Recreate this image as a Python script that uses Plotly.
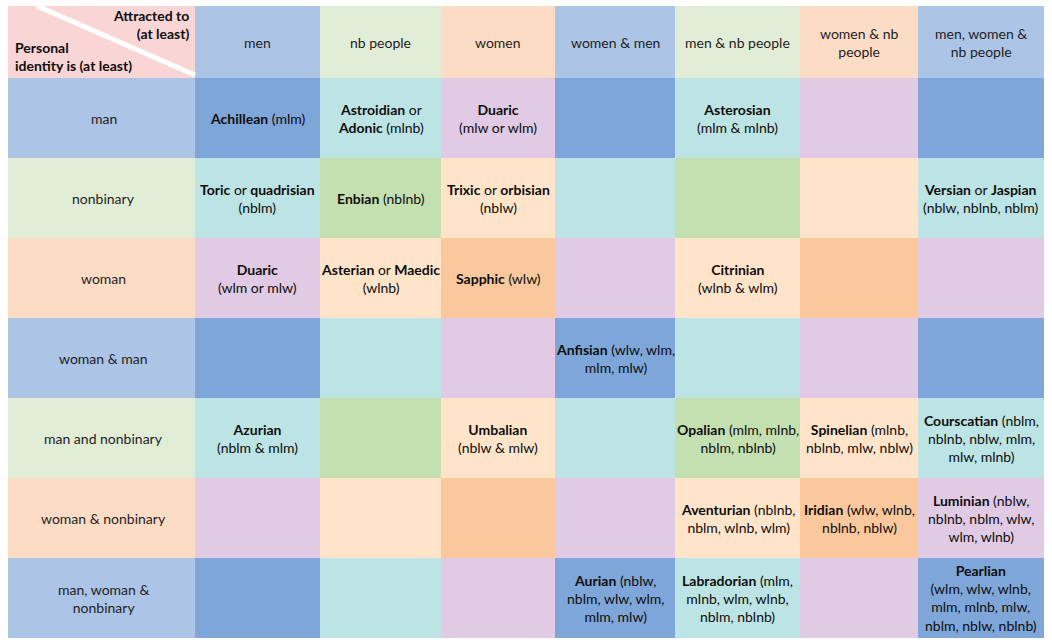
import plotly.graph_objects as go
import numpy as np

# ---------------- data ----------------
row_labels = ["man", "nonbinary", "woman", "woman & man", "man and nonbinary",
              "woman & nonbinary", "man, woman &<br>nonbinary"]
col_labels = ["men", "nb people", "women", "women & men", "men & nb people",
              "women & nb<br>people", "men, women &<br>nb people"]
# group of each row / column: 0 = men/man, 1 = nb, 2 = women/woman
row_groups = [0, 1, 2, 0, 1, 2, 0]
col_groups = [0, 1, 2, 0, 1, 2, 0]

cell_names = [
    ["<b>Achillean</b> (mlm)", "<b>Astroidian</b> or<br><b>Adonic</b> (mlnb)",
     "<b>Duaric</b><br>(mlw or wlm)", "", "<b>Asterosian</b><br>(mlm & mlnb)", "", ""],
    ["<b>Toric</b> or <b>quadrisian</b><br>(nblm)", "<b>Enbian</b> (nblnb)",
     "<b>Trixic</b> or <b>orbisian</b><br>(nblw)", "", "", "",
     "<b>Versian</b> or <b>Jaspian</b><br>(nblw, nblnb, nblm)"],
    ["<b>Duaric</b><br>(wlm or mlw)", "<b>Asterian</b> or <b>Maedic</b><br>(wlnb)",
     "<b>Sapphic</b> (wlw)", "", "<b>Citrinian</b><br>(wlnb & wlm)", "", ""],
    ["", "", "", "<b>Anfisian</b> (wlw, wlm,<br>mlm, mlw)", "", "", ""],
    ["<b>Azurian</b><br>(nblm & mlm)", "", "<b>Umbalian</b><br>(nblw & mlw)", "",
     "<b>Opalian</b> (mlm, mlnb,<br>nblm, nblnb)",
     "<b>Spinelian</b> (mlnb,<br>nblnb, mlw, nblw)",
     "<b>Courscatian</b> (nblm,<br>nblnb, nblw, mlm,<br>mlw, mlnb)"],
    ["", "", "", "", "<b>Aventurian</b> (nblnb,<br>nblm, wlnb, wlm)",
     "<b>Iridian</b> (wlw, wlnb,<br>nblnb, nblw)",
     "<b>Luminian</b> (nblw,<br>nblnb, nblm, wlw,<br>wlm, wlnb)"],
    ["", "", "", "<b>Aurian</b> (nblw,<br>nblm, wlw, wlm,<br>mlm, mlw)",
     "<b>Labradorian</b> (mlm,<br>mlnb, wlm, wlnb,<br>nblm, nblnb)", "",
     "<b>Pearlian</b><br>(wlm, wlw, wlnb,<br>mlm, mlnb, mlw,<br>nblm, nblw, nblnb)"],
]
corner_top = "<b>Attracted to<br>(at least)</b>"
corner_bottom = "<b>Personal<br>identity is (at least)</b>"

# ---------------- layout / style ----------------
W, H = 1052, 643
ML, MR, MT, MB = 8, 8, 6, 5
first_col_w = 187
col_widths = [125, 121, 114, 120, 125, 118, 126]
header_h = 72
row_h = 80

x_edges = np.concatenate([[ML], ML + np.cumsum([first_col_w] + col_widths)])
y_edges = np.concatenate([[MT], MT + np.cumsum([header_h] + [row_h] * len(row_labels))])
x_mid = (x_edges[:-1] + x_edges[1:]) / 2
y_mid = (y_edges[:-1] + y_edges[1:]) / 2

palette = [
    "#F9D5D5",  # 0 corner pink
    "#ACC4E6",  # 1 header blue
    "#E1EDD6",  # 2 header green
    "#FDDCC6",  # 3 header peach
    "#7EA6D9",  # 4 dark blue
    "#BCE4E4",  # 5 teal
    "#E0CAE4",  # 6 lavender
    "#C4E0B0",  # 7 green
    "#FFE4CA",  # 8 peach
    "#FBC89D",  # 9 orange
]
body_code = {(0, 0): 4, (0, 1): 5, (1, 0): 5, (0, 2): 6, (2, 0): 6,
             (1, 1): 7, (1, 2): 8, (2, 1): 8, (2, 2): 9}

n_r, n_c = len(row_labels), len(col_labels)
z = np.zeros((n_r + 1, n_c + 1))
z[0, 0] = 0
for j, g in enumerate(col_groups):
    z[0, j + 1] = g + 1
for i, g in enumerate(row_groups):
    z[i + 1, 0] = g + 1
    for j, h in enumerate(col_groups):
        z[i + 1, j + 1] = body_code[(g, h)]

n = len(palette)
colorscale = []
for k, c in enumerate(palette):
    colorscale.append([k / n, c])
    colorscale.append([(k + 1) / n, c])

fig = go.Figure(go.Heatmap(
    z=z, x=x_edges, y=y_edges, colorscale=colorscale,
    zmin=-0.5, zmax=n - 0.5, showscale=False, hoverinfo="skip",
    xgap=0, ygap=0,
))

FONT = "Lato"
FS = 14
TXT = "#0d0d0d"
ann = []
for j, lab in enumerate(col_labels):
    ann.append(dict(x=x_mid[j + 1], y=y_mid[0], text=lab, showarrow=False,
                    font=dict(size=FS, color="#1e1e1e", family=FONT)))
for i, lab in enumerate(row_labels):
    ann.append(dict(x=x_mid[0] + 2, y=y_mid[i + 1], text=lab, showarrow=False,
                    font=dict(size=FS, color="#1e1e1e", family=FONT)))
    for j in range(n_c):
        t = cell_names[i][j]
        if t:
            ann.append(dict(x=x_mid[j + 1], y=y_mid[i + 1], text=t, showarrow=False,
                            font=dict(size=FS, color=TXT, family=FONT)))

ann.append(dict(x=x_edges[1] - 4, y=y_edges[0], yshift=1, text=corner_top, showarrow=False,
                xanchor="right", yanchor="top", align="right",
                font=dict(size=FS, color=TXT, family=FONT)))
ann.append(dict(x=x_edges[0] + 5, y=y_edges[1] - 2, text=corner_bottom, showarrow=False,
                xanchor="left", yanchor="bottom", align="left",
                font=dict(size=FS, color=TXT, family=FONT)))

shapes = [dict(type="line", xref="x", yref="y", x0=x_edges[0] + 29, y0=y_edges[0],
               x1=x_edges[1], y1=y_edges[1] - 3, line=dict(color="white", width=5),
               layer="above")]

fig.update_layout(
    width=W, height=H,
    margin=dict(l=ML, r=MR, t=MT, b=MB),
    paper_bgcolor="white", plot_bgcolor="white",
    xaxis=dict(range=[x_edges[0], x_edges[-1]], visible=False, fixedrange=True),
    yaxis=dict(range=[y_edges[-1], y_edges[0]], visible=False, fixedrange=True),
    annotations=ann, shapes=shapes, showlegend=False,
)

fig.write_html(
    "out.html",
    config={"displayModeBar": False, "staticPlot": True},
    post_script="document.body.style.margin='0';document.body.style.overflow='hidden';",
)
